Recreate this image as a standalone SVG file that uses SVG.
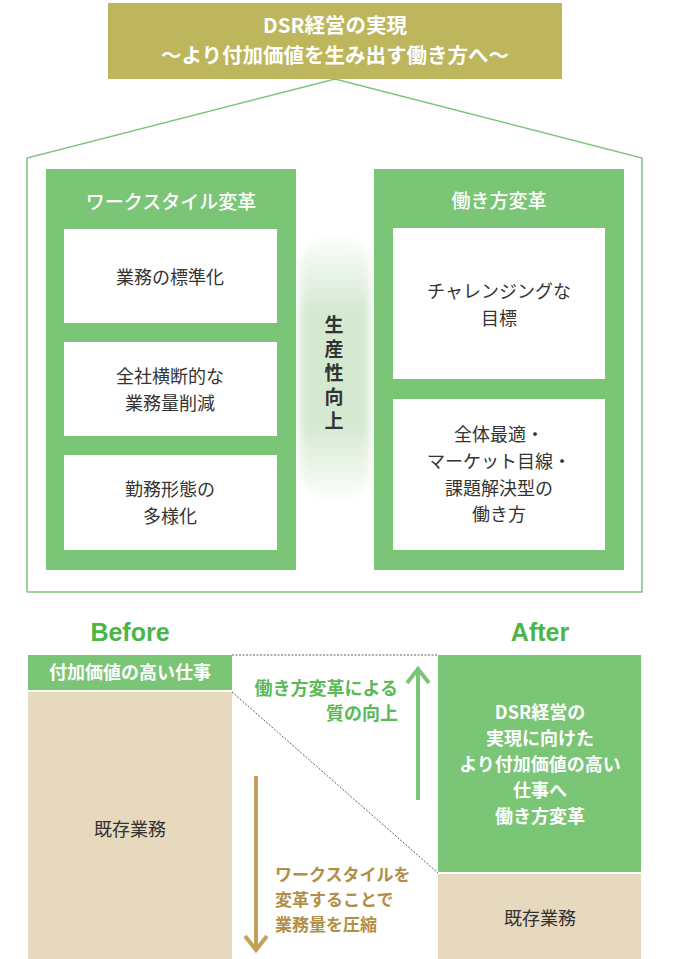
<svg xmlns="http://www.w3.org/2000/svg" width="681" height="959" viewBox="0 0 681 959">
<defs>
<style>
text{font-family:"Noto Sans CJK JP","Noto Sans",sans-serif;text-anchor:middle}
.wh{fill:#fff;font-weight:700}
.hd{fill:#fff;font-size:19px;font-weight:500}
.bx{fill:#333;font-size:18px}
.col{fill:#7bc576}
.box{fill:#fff}
.beige{fill:#e6d9bd}
.gl{fill:#5cb957;font-size:18px;font-weight:700;text-anchor:end}
.tl{fill:#b18f45;font-size:17px;font-weight:700;text-anchor:start}
.ba{fill:#4bb548;font-size:25px;font-weight:700;font-family:"Liberation Sans","Noto Sans",sans-serif}
.vt{font-size:19px;font-weight:700;fill:#333;writing-mode:vertical-rl;letter-spacing:5px}
</style>
<linearGradient id="gv" x1="0" y1="0" x2="0" y2="1">
<stop offset="0" stop-color="#d4e9d0" stop-opacity="0"/>
<stop offset="0.3" stop-color="#d4e9d0"/>
<stop offset="0.7" stop-color="#d4e9d0"/>
<stop offset="1" stop-color="#d4e9d0" stop-opacity="0"/>
</linearGradient>
<filter id="blur" x="-30%" y="-10%" width="160%" height="120%"><feGaussianBlur stdDeviation="4"/></filter>
</defs>

<g id="title">
<rect x="108" y="3" width="454" height="76" fill="#bdb65c"/>
<text class="wh" font-size="20.5"><tspan x="335" y="33">DSR経営の実現</tspan><tspan x="335" y="63">～より付加価値を生み出す働き方へ～</tspan></text>
</g>

<g id="house">
<polyline points="27,592 27,158 335,79 642,158 642,592 27,592" fill="none" stroke="#7bc576" stroke-width="1.5"/>
</g>

<g id="glow">
<rect x="300" y="232" width="70" height="272" rx="35" fill="url(#gv)" filter="url(#blur)"/>
<text class="vt" x="334" y="375">生産性向上</text>
</g>

<g id="workstyle">
<rect class="col" x="46" y="169" width="250" height="401"/>
<text class="hd" x="171" y="209">ワークスタイル変革</text>
<g id="ws1"><rect class="box" x="64" y="229" width="213" height="94"/><text class="bx" x="170" y="284">業務の標準化</text></g>
<g id="ws2"><rect class="box" x="64" y="342" width="213" height="94"/><text class="bx" x="170" y="383">全社横断的な</text><text class="bx" x="170" y="410">業務量削減</text></g>
<g id="ws3"><rect class="box" x="64" y="455" width="213" height="95"/><text class="bx" x="170" y="496">勤務形態の</text><text class="bx" x="170" y="523">多様化</text></g>
</g>

<g id="hatarakikata">
<rect class="col" x="374" y="169" width="250" height="401"/>
<text class="hd" x="499" y="208">働き方変革</text>
<g id="hk1"><rect class="box" x="393" y="228" width="212" height="151"/><text class="bx" x="499" y="298">チャレンジングな</text><text class="bx" x="499" y="325">目標</text></g>
<g id="hk2"><rect class="box" x="393" y="399" width="212" height="151"/><text class="bx" x="499" y="441">全体最適・</text><text class="bx" x="499" y="468">マーケット目線・</text><text class="bx" x="499" y="495">課題解決型の</text><text class="bx" x="499" y="521">働き方</text></g>
</g>

<g id="before">
<text class="ba" x="130" y="641">Before</text>
<rect class="col" x="28" y="655" width="204" height="35"/>
<text class="wh" x="130" y="679" font-size="18" font-weight="500">付加価値の高い仕事</text>
<rect class="beige" x="28" y="692" width="204" height="267"/>
<text class="bx" x="130" y="836">既存業務</text>
</g>

<g id="after">
<text class="ba" x="540" y="641">After</text>
<rect class="col" x="438" y="655" width="203" height="217"/>
<text class="wh" x="540" y="719" font-size="18">DSR経営の</text>
<text class="wh" x="540" y="745" font-size="18">実現に向けた</text>
<text class="wh" x="540" y="771" font-size="18">より付加価値の高い</text>
<text class="wh" x="540" y="797" font-size="18">仕事へ</text>
<text class="wh" x="540" y="823" font-size="18">働き方変革</text>
<rect class="beige" x="438" y="874" width="203" height="85"/>
<text class="bx" x="540" y="925">既存業務</text>
</g>

<g id="connectors">
<line x1="232" y1="655" x2="438" y2="655" stroke="#333" stroke-width="0.8" stroke-dasharray="2,1.5"/>
<line x1="232" y1="692" x2="438" y2="873" stroke="#333" stroke-width="0.8" stroke-dasharray="2,1.5"/>
<line x1="418" y1="800" x2="418" y2="670" stroke="#7bc576" stroke-width="4"/>
<polyline points="407,683 418,669 429,683" fill="none" stroke="#7bc576" stroke-width="4"/>
<line x1="256" y1="776" x2="256" y2="950" stroke="#c2a15a" stroke-width="4"/>
<polyline points="245,936 256,950 267,936" fill="none" stroke="#c2a15a" stroke-width="4"/>
</g>

<g id="labels">
<text class="gl" x="398" y="695">働き方変革による</text>
<text class="gl" x="398" y="720">質の向上</text>
<text class="tl" x="275" y="881">ワークスタイルを</text>
<text class="tl" x="275" y="906">変革することで</text>
<text class="tl" x="275" y="931">業務量を圧縮</text>
</g>
</svg>
